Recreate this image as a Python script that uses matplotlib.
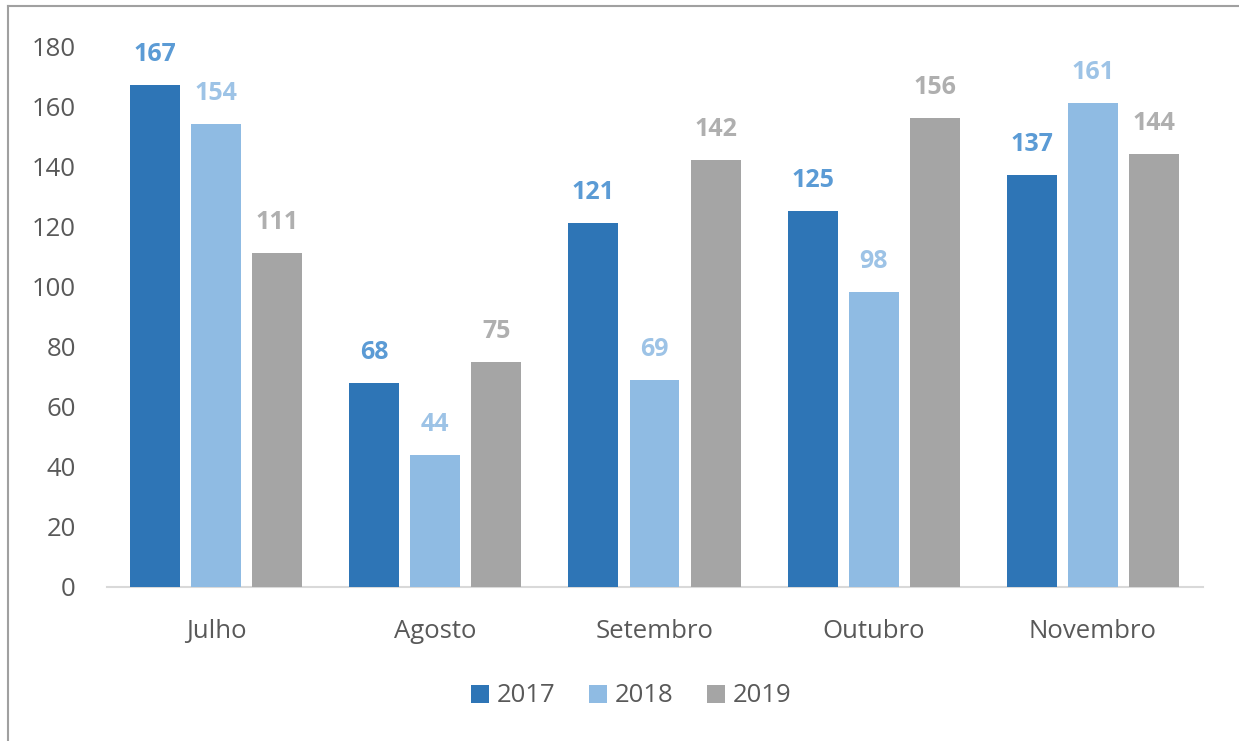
import numpy as np
import matplotlib.pyplot as plt
from matplotlib.lines import Line2D

plt.rcParams['font.family'] = ['Open Sans', 'DejaVu Sans']

meses = ["Julho", "Agosto", "Setembro", "Outubro", "Novembro"]
anos = ["2017", "2018", "2019"]
v2017 = [167, 68, 121, 125, 137]
v2018 = [154, 44, 69, 98, 161]
v2019 = [111, 75, 142, 156, 144]

cores_barra = ["#2E75B6", "#8FBBE3", "#A5A5A5"]
cores_rotulo = ["#5B9BD5", "#9DC3E6", "#AFAFAF"]

fig = plt.figure(figsize=(12.39, 7.41), dpi=100)
ax = fig.add_axes([106.5 / 1239, 1 - 587 / 741, 1096 / 1239, 541 / 741])

x = np.arange(len(meses))
largura = 0.228
passo = 0.279
for i, (ano, vals) in enumerate(zip(anos, [v2017, v2018, v2019])):
    pos = x + (i - 1) * passo
    barras = ax.bar(pos, vals, largura, color=cores_barra[i], label=ano, zorder=3)
    ax.bar_label(barras, padding=13, fontsize=18, fontweight='bold', color=cores_rotulo[i])

ax.set_xlim(-0.5, len(meses) - 0.5)
ax.set_ylim(0, 180)
ax.set_yticks(range(0, 181, 20))
ax.set_xticks(x)
ax.set_xticklabels(meses)
ax.tick_params(axis='both', length=0, labelsize=18.5, labelcolor='#595959')
ax.tick_params(axis='x', pad=23)
ax.tick_params(axis='y', pad=22)
for s in ['top', 'right', 'left']:
    ax.spines[s].set_visible(False)
ax.spines['bottom'].set_color('#D9D9D9')
ax.spines['bottom'].set_linewidth(1.5)

ax.legend(loc='center', bbox_to_anchor=(631 / 1239, 1 - 696 / 741), bbox_transform=fig.transFigure,
          ncol=3, frameon=False, fontsize=18.5, labelcolor='#595959',
          handlelength=0.7, handleheight=0.7, handletextpad=0.3, columnspacing=1.3)

# moldura parcial (topo e esquerda)
fig.add_artist(Line2D([7.5 / 1239, 1], [1 - 6 / 741, 1 - 6 / 741], color='#A0A0A0', lw=1.5, transform=fig.transFigure))
fig.add_artist(Line2D([7.5 / 1239, 7.5 / 1239], [0, 1 - 6 / 741], color='#A0A0A0', lw=1.5, transform=fig.transFigure))

fig.savefig("out.png", dpi=100)
